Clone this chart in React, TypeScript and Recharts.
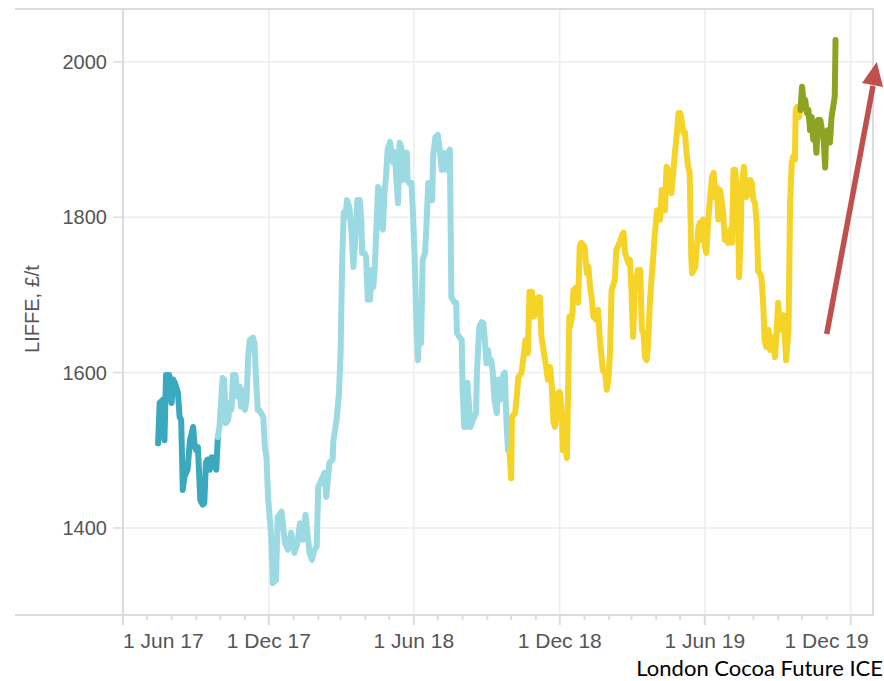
import { LineChart, Line, XAxis, YAxis, CartesianGrid } from "recharts";

// x = days since 1 Jun 2017, y = LIFFE cocoa price, £/t
const tealPrices: [number, number][] = [
  [44, 1509], [46, 1561], [50, 1565], [52, 1513], [54, 1597], [58, 1597], [61, 1561], [63, 1591],
  [65, 1587], [69, 1574], [71, 1543], [73, 1539], [75, 1449], [77, 1466], [81, 1475], [84, 1513],
  [88, 1530], [90, 1504], [92, 1500], [94, 1504], [97, 1436], [100, 1430], [102, 1432], [104, 1484],
  [106, 1488], [109, 1475], [111, 1491], [113, 1479], [115, 1491], [117, 1475], [119, 1517],
];

const cyanPrices: [number, number][] = [
  [119, 1517], [121, 1530], [125, 1593], [127, 1591], [129, 1535], [132, 1539], [134, 1561], [136, 1552],
  [138, 1597], [141, 1597], [144, 1569], [146, 1582], [148, 1556], [150, 1578], [153, 1552], [155, 1565],
  [157, 1620], [159, 1642], [163, 1645], [165, 1638], [167, 1591], [169, 1552], [171, 1552], [176, 1543],
  [178, 1504], [180, 1491], [182, 1440], [186, 1388], [188, 1329], [192, 1333], [194, 1414], [199, 1421],
  [203, 1381], [207, 1372], [211, 1394], [215, 1368], [219, 1381], [222, 1406], [226, 1385], [229, 1417],
  [232, 1388], [234, 1368], [237, 1359], [240, 1372], [243, 1376], [245, 1453], [249, 1462], [253, 1471],
  [255, 1440], [257, 1462], [259, 1484], [263, 1488], [264, 1513], [268, 1539], [271, 1574], [273, 1625],
  [275, 1745], [277, 1806], [279, 1800], [281, 1822], [284, 1813], [287, 1775], [289, 1736], [292, 1780],
  [294, 1822], [297, 1822], [299, 1797], [300, 1754], [303, 1754], [305, 1749], [307, 1694], [310, 1694],
  [312, 1732], [314, 1710], [316, 1736], [318, 1788], [320, 1839], [322, 1835], [324, 1788], [326, 1784],
  [328, 1831], [330, 1852], [332, 1887], [335, 1897], [337, 1883], [339, 1870], [341, 1884], [343, 1848],
  [345, 1818], [347, 1896], [349, 1891], [351, 1848], [353, 1883], [356, 1883], [357, 1848], [359, 1844],
  [362, 1844], [364, 1800], [366, 1745], [368, 1668], [370, 1616], [372, 1668], [374, 1638], [376, 1745],
  [379, 1754], [381, 1797], [383, 1844], [386, 1844], [388, 1822], [389, 1878], [392, 1903], [395, 1906],
  [397, 1891], [400, 1861], [402, 1883], [405, 1861], [408, 1883], [410, 1887], [411, 1797], [412, 1697],
  [416, 1690], [418, 1690], [419, 1651], [422, 1646], [425, 1642], [426, 1582], [428, 1530], [430, 1530],
  [432, 1587], [434, 1561], [436, 1530], [439, 1539], [443, 1548], [444, 1600], [447, 1659], [450, 1665],
  [452, 1664], [454, 1642], [456, 1612], [458, 1629], [460, 1612], [462, 1616], [464, 1600], [466, 1565],
  [469, 1548], [471, 1591], [473, 1565], [475, 1571], [477, 1597], [479, 1600], [481, 1539], [483, 1500],
  [485, 1498],
];

const yellowPrices: [number, number][] = [
  [485, 1498], [487, 1464], [488, 1543], [492, 1548], [494, 1569], [496, 1594], [500, 1600], [502, 1616],
  [505, 1642], [508, 1625], [510, 1704], [513, 1704], [515, 1672], [519, 1677], [521, 1697], [523, 1697],
  [525, 1646], [527, 1633], [529, 1620], [531, 1607], [533, 1591], [536, 1607], [538, 1582], [540, 1537],
  [542, 1530], [544, 1548], [546, 1574], [548, 1575], [550, 1556], [552, 1500], [554, 1513], [557, 1490],
  [560, 1672], [561, 1659], [564, 1677], [565, 1706], [569, 1710], [571, 1690], [573, 1762], [575, 1767],
  [579, 1762], [582, 1728], [584, 1736], [586, 1710], [588, 1697], [590, 1672], [594, 1668], [596, 1681],
  [598, 1646], [600, 1625], [602, 1603], [605, 1600], [607, 1578], [609, 1591], [611, 1625], [613, 1706],
  [617, 1719], [619, 1758], [623, 1767], [626, 1777], [628, 1780], [630, 1754], [634, 1741], [636, 1745],
  [638, 1706], [640, 1646], [642, 1706], [644, 1719], [646, 1732], [649, 1732], [651, 1655], [653, 1651],
  [655, 1620], [657, 1616], [659, 1638], [661, 1690], [663, 1719], [665, 1745], [667, 1775], [670, 1809],
  [672, 1806], [674, 1797], [676, 1835], [678, 1835], [680, 1809], [682, 1865], [684, 1861], [686, 1835],
  [688, 1831], [690, 1852], [692, 1878], [695, 1909], [697, 1934], [699, 1934], [701, 1925], [703, 1909],
  [705, 1909], [707, 1883], [709, 1865], [711, 1857], [713, 1749], [714, 1728], [718, 1736], [720, 1762],
  [722, 1788], [724, 1793], [726, 1771], [728, 1797], [730, 1762], [732, 1754], [734, 1793], [736, 1818],
  [739, 1852], [741, 1857], [743, 1826], [745, 1839], [747, 1797], [749, 1835], [751, 1822], [753, 1806],
  [755, 1771], [757, 1771], [759, 1767], [762, 1784], [764, 1767], [766, 1861], [768, 1861], [770, 1835],
  [772, 1780], [773, 1723], [775, 1775], [776, 1835], [779, 1865], [782, 1826], [785, 1831], [787, 1848],
  [789, 1844], [791, 1822], [793, 1818], [795, 1793], [797, 1730], [799, 1728], [801, 1722], [803, 1694],
  [805, 1642], [807, 1633], [810, 1655], [812, 1629], [814, 1646], [816, 1638], [818, 1620], [820, 1651],
  [822, 1690], [824, 1655], [827, 1661], [829, 1674], [832, 1616], [835, 1655], [837, 1818], [839, 1870],
  [841, 1878], [843, 1874], [844, 1938], [846, 1942], [848, 1929], [850, 1938],
];

const olivePrices: [number, number][] = [
  [850, 1938], [852, 1968], [854, 1947], [856, 1951], [858, 1934], [860, 1938], [862, 1912], [864, 1929],
  [866, 1900], [868, 1912], [870, 1883], [872, 1925], [875, 1925], [877, 1912], [879, 1900], [881, 1864],
  [882, 1900], [884, 1912], [885, 1900], [887, 1896], [889, 1929], [891, 1942], [893, 1955], [894, 2028],
];

const yTicks = [1400, 1600, 1800, 2000];
const monthNames = ["Jan", "Feb", "Mar", "Apr", "May", "Jun", "Jul", "Aug", "Sep", "Oct", "Nov", "Dec"];

const START = Date.UTC(2017, 5, 1);
const DAY_MS = 86400000;
const X_MAX = 941; // ~28 Dec 2019

// one tick per month start, labels every six months
const monthTicks: number[] = [];
const monthLabels: string[] = [];
for (let i = 0; i <= 30; i++) {
  const t = Date.UTC(2017, 5 + i, 1);
  const dt = new Date(t);
  monthTicks.push(Math.round((t - START) / DAY_MS));
  monthLabels.push(`1 ${monthNames[dt.getUTCMonth()]} ${String(dt.getUTCFullYear()).slice(2)}`);
}
const majorTicks = monthTicks.filter((_, i) => i % 6 === 0);

const series = [
  { key: "teal", color: "#3aa8bd", points: tealPrices },
  { key: "cyan", color: "#9bdae3", points: cyanPrices },
  { key: "yellow", color: "#f5d327", points: yellowPrices },
  { key: "olive", color: "#8fa322", points: olivePrices },
];

const rows = series.flatMap((s) => s.points.map(([d, p]) => ({ d, [s.key]: p })));

const axisFont = "'Liberation Sans', Arial, Helvetica, sans-serif";
const textGrey = "#555";
const frameGrey = "#dcdcdc";
const gridGrey = "#ededed";

function MonthTick(props: any) {
  const { x, y, payload } = props;
  const i = monthTicks.indexOf(payload.value);
  const major = i % 6 === 0;
  const last = i === monthTicks.length - 1;
  const anchor = i === 0 ? "start" : last ? "end" : "middle";
  const dx = i === 0 ? 0 : last ? 18 : 0;
  return (
    <g>
      <line x1={x} x2={x} y1={y} y2={y + (major ? 10 : 5)} stroke={frameGrey} strokeWidth={2} />
      {major && (
        <text x={x + dx} y={y + 33} textAnchor={anchor} fill={textGrey} fontSize={21} fontFamily={axisFont}>
          {monthLabels[i]}
        </text>
      )}
    </g>
  );
}

export default function App() {
  return (
    <div style={{ position: "absolute", left: 0, top: 0, width: 884, height: 681, background: "#fff" }}>
      <LineChart width={884} height={681} data={rows} margin={{ top: 9, right: 11, left: 0, bottom: 0 }}>
        <CartesianGrid
          stroke={gridGrey}
          strokeWidth={1.5}
          verticalCoordinatesGenerator={({ offset }: any) =>
            majorTicks.slice(1).map((d) => offset.left + (d / X_MAX) * offset.width)
          }
        />
        <XAxis
          dataKey="d"
          type="number"
          domain={[0, X_MAX]}
          ticks={monthTicks}
          interval={0}
          height={66}
          axisLine={false}
          tickLine={false}
          tickSize={0}
          tickMargin={0}
          tick={<MonthTick />}
        />
        <YAxis
          type="number"
          domain={[1288, 2068]}
          ticks={yTicks}
          width={123}
          axisLine={{ stroke: frameGrey, strokeWidth: 2 }}
          tickLine={{ stroke: frameGrey, strokeWidth: 1.5 }}
          tickSize={10}
          tickMargin={6}
          tick={{ fill: textGrey, fontSize: 20, fontFamily: axisFont }}
          label={{
            content: () => (
              <text
                x={34}
                y={309}
                transform="rotate(-90 34 309)"
                textAnchor="middle"
                dominantBaseline="middle"
                fill={textGrey}
                fontSize={20}
                fontFamily={axisFont}
              >
                LIFFE, £/t
              </text>
            ),
          }}
        />
        {series.map((s) => (
          <Line
            key={s.key}
            dataKey={s.key}
            stroke={s.color}
            strokeWidth={6}
            strokeLinejoin="round"
            strokeLinecap="round"
            dot={false}
            activeDot={false}
            type="linear"
            isAnimationActive={false}
          />
        ))}
      </LineChart>
      <svg
        width={884}
        height={681}
        style={{ position: "absolute", left: 0, top: 0, pointerEvents: "none" }}
      >
        <line x1={15} x2={874} y1={9} y2={9} stroke={frameGrey} strokeWidth={2} />
        <line x1={15} x2={874} y1={615} y2={615} stroke={frameGrey} strokeWidth={2} />
        <line x1={873} x2={873} y1={9} y2={615} stroke={frameGrey} strokeWidth={2} />
        <line x1={826.7} y1={334} x2={873} y2={86} stroke="#c0504d" strokeWidth={5.5} />
        <polygon points="876.8,62 862,83 883,87" fill="#c0504d" />
      </svg>
      <div
        style={{
          position: "absolute",
          right: 1,
          top: 657,
          fontFamily: "Lato, 'Open Sans', sans-serif",
          fontSize: 22,
          lineHeight: "22px",
          color: "#000",
          whiteSpace: "nowrap",
        }}
      >
        London Cocoa Future ICE
      </div>
    </div>
  );
}
